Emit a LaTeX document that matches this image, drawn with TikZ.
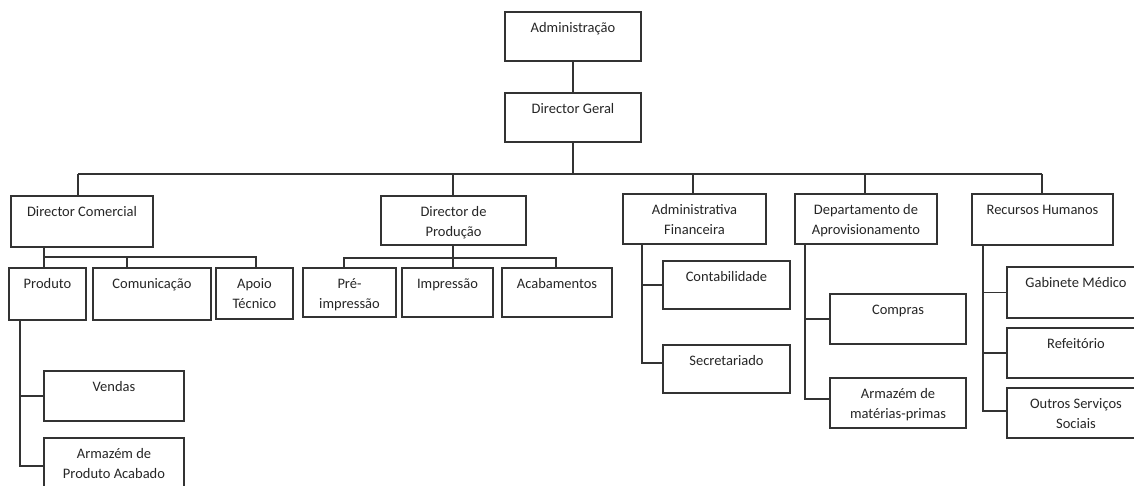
\documentclass[tikz,border=0pt]{standalone}
\usepackage{fontspec}
\setmainfont{Carlito}
% centred multi-line label whose baseline is the first line
\newcommand\stack[1]{\begin{tabular}[t]{@{}c@{}}#1\end{tabular}}
% \orgbox{name}{x1}{y1}{x2}{y2}{text}: framed box with its text near the top
\newcommand\orgbox[6]{%
  \node[box, minimum width={#4-#2}, minimum height={#5-#3}] (#1) at ({(#2+#4)/2},{(#3+#5)/2}) {};
  \node[lbl] (#1-t) at ([yshift=-20.5pt]#1.north) {\stack{#6}};}
\begin{document}
\begin{tikzpicture}[x=1pt,y=-1pt,
  box/.style={draw=black!80, line width=1.3pt, fill=white, inner sep=0pt, outer sep=0pt},
  lbl/.style={anchor=base, inner sep=0pt, font=\fontsize{14.5}{20}\selectfont, text=black!85},
  link/.style={draw=black!80, line width=1.3pt}]
\useasboundingbox (0,0) rectangle (1134,486);
\clip (0,0) rectangle (1134,486);
\fill[white] (0,0) rectangle (1134,486);

% top of the hierarchy
\orgbox{adm}{505}{12}{641}{61}{Administração}
\orgbox{dg}{505}{93}{641}{142}{Director Geral}

% directors
\orgbox{dc}{11}{196}{153}{247}{Director Comercial}
\orgbox{dp}{381}{196}{526}{245}{Director de\\Produção}
\orgbox{af}{623}{194}{766}{244}{Administrativa\\Financeira}
\orgbox{da}{795}{194}{937}{244}{Departamento de\\Aprovisionamento}
\orgbox{rh}{972}{194}{1113}{245}{Recursos Humanos}

% commercial branch
\orgbox{prod}{9}{268}{86}{320}{Produto}
\orgbox{com}{93}{268}{211}{320}{Comunicação}
\orgbox{apoio}{216}{268}{293}{319}{Apoio\\Técnico}
\orgbox{vend}{44}{371}{184}{421}{Vendas}
\orgbox{apa}{44}{438}{184}{494}{Armazém de\\Produto Acabado}

% production branch
\orgbox{pre}{303}{268}{396}{317}{Pré-\\impressão}
\orgbox{imp}{402}{268}{493}{317}{Impressão}
\orgbox{acab}{502}{268}{612}{317}{Acabamentos}

% finance branch
\orgbox{cont}{663}{261}{790}{309}{Contabilidade}
\orgbox{sec}{663}{345}{790}{393}{Secretariado}

% procurement branch
\orgbox{comp}{830}{294}{966}{344}{Compras}
\orgbox{amp}{830}{378}{966}{428}{Armazém de\\matérias-primas}

% human resources branch
\orgbox{gab}{1007}{267}{1145}{318}{Gabinete Médico}
\orgbox{ref}{1007}{328}{1145}{378}{Refeitório}
\orgbox{out}{1007}{388}{1145}{438}{Outros Serviços\\Sociais}

% guide coordinates for the orthogonal connectors
\coordinate (bus) at (0,174);
\coordinate (dcx) at (78,0);
\coordinate (dpx) at (453,0);
\coordinate (afx) at (693,0);
\coordinate (dax) at (865,0);
\coordinate (rhx) at (1042,0);
\coordinate (dcsub) at (0,257);
\coordinate (dcl) at (44,0);
\coordinate (comx) at (127,0);
\coordinate (apx) at (256,0);
\coordinate (prx) at (20,0);
\coordinate (dpsub) at (0,258);
\coordinate (prex) at (344,0);
\coordinate (acx) at (556,0);
\coordinate (afsp) at (642,0);
\coordinate (dasp) at (805,0);
\coordinate (rhsp) at (983,0);

% connectors
\draw[link] (adm) -- (dg);
\draw[link] (dg.south) -- (dg.south |- bus);
\draw[link] (dcx |- bus) -- (rhx |- bus);
\draw[link] (dcx |- bus) -- (dcx |- dc.north);
\draw[link] (dpx |- bus) -- (dpx |- dp.north);
\draw[link] (afx |- bus) -- (afx |- af.north);
\draw[link] (dax |- bus) -- (dax |- da.north);
\draw[link] (rhx |- bus) -- (rhx |- rh.north);

\draw[link] (dcl |- dc.south) -- (dcl |- prod.north);
\draw[link] (dcl |- dcsub) -- (apx |- dcsub) -- (apx |- apoio.north);
\draw[link] (comx |- dcsub) -- (comx |- com.north);
\draw[link] (prx |- prod.south) |- (vend.west);
\draw[link] (prx |- vend.west) |- (apa.west);

\draw[link] (dpx |- dp.south) -- (dpx |- imp.north);
\draw[link] (prex |- pre.north) -- (prex |- dpsub) -- (acx |- dpsub) -- (acx |- acab.north);

\draw[link] (afsp |- af.south) |- (cont.west);
\draw[link] (afsp |- cont.west) |- ([yshift=6pt]sec.west);

\draw[link] (dasp |- da.south) |- (comp.west);
\draw[link] (dasp |- comp.west) |- ([yshift=4pt]amp.west);

\draw[link] (rhsp |- rh.south) |- (gab.west);
\draw[link] (rhsp |- gab.west) |- (ref.west);
\draw[link] (rhsp |- ref.west) |- ([yshift=2pt]out.west);
\end{tikzpicture}
\end{document}
